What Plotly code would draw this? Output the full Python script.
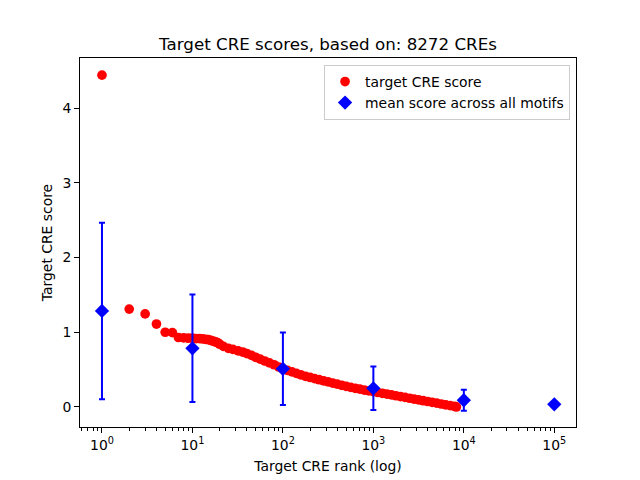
import plotly.graph_objects as go

# Red series: target CRE score by rank
cre_rank = [1, 2, 3, 4, 5, 6, 7, 8, 9, 10, 11, 12, 13, 14, 15, 16, 17, 18, 19, 20,
            22, 25, 28, 32, 36, 40, 45, 50, 56, 63, 71, 80, 90, 100, 112, 126, 141,
            158, 178, 200, 224, 251, 282, 316, 355, 398, 447, 501, 562, 631, 708,
            794, 891, 1000, 1122, 1259, 1413, 1585, 1778, 1995, 2239, 2512, 2818,
            3162, 3548, 3981, 4467, 5012, 5623, 6310, 7079, 7943, 8272]
cre_score = [4.44, 1.31, 1.245, 1.11, 1.00, 0.995, 0.93, 0.925, 0.92, 0.92, 0.915,
             0.915, 0.91, 0.905, 0.90, 0.89, 0.88, 0.87, 0.86, 0.84,
             0.81, 0.785, 0.77, 0.75, 0.735, 0.715, 0.69, 0.665, 0.64, 0.615, 0.59,
             0.565, 0.535, 0.51, 0.49, 0.47, 0.45, 0.43, 0.41, 0.395, 0.38, 0.365,
             0.35, 0.335, 0.32, 0.305, 0.29, 0.275, 0.262, 0.25, 0.238, 0.226,
             0.215, 0.205, 0.194, 0.183, 0.172, 0.161, 0.150, 0.139, 0.128, 0.117,
             0.106, 0.095, 0.084, 0.073, 0.062, 0.051, 0.040, 0.029, 0.018, 0.007,
             0.0]

# Blue series: mean score across all motifs with error bars
mean_rank = [1, 10, 100, 1000, 10000, 100000]
mean_score = [1.285, 0.785, 0.51, 0.25, 0.09, 0.036]
mean_err = [1.18, 0.72, 0.485, 0.29, 0.14, 0.005]

tick_vals = [1, 10, 100, 1000, 10000, 100000]
tick_text = ["10<sup>0</sup>", "10<sup>1</sup>", "10<sup>2</sup>",
             "10<sup>3</sup>", "10<sup>4</sup>", "10<sup>5</sup>"]
minor_vals = [m * 10 ** k for k in range(-1, 6) for m in range(2, 10)]

font = "DejaVu Sans, sans-serif"

fig = go.Figure()
fig.add_trace(go.Scatter(
    x=cre_rank, y=cre_score, mode="markers", name="target CRE score",
    marker=dict(color="#ff0000", size=9.7, line=dict(width=0)),
))
fig.add_trace(go.Scatter(
    x=mean_rank, y=mean_score, mode="markers", name="mean score across all motifs",
    marker=dict(color="#0000ff", symbol="diamond", size=11, line=dict(width=0)),
    error_y=dict(type="data", array=mean_err, color="#0000ff", thickness=2, width=3),
))

# page body has an 8px default offset; margins compensate for it
fig.update_layout(
    width=640, height=480,
    margin=dict(l=72, r=72, t=50, b=61, autoexpand=False),
    paper_bgcolor="white", plot_bgcolor="white",
    font=dict(family=font, size=13.9, color="black"),
    title=dict(text="Target CRE scores, based on: 8272 CREs", x=0.5, xref="paper",
               y=(480 - 36) / 480, yref="container", yanchor="middle",
               font=dict(size=16.7, family=font)),
    showlegend=True,
    legend=dict(x=0.988, y=0.981, xanchor="right", yanchor="top",
                bordercolor="#cccccc", borderwidth=1, bgcolor="rgba(255,255,255,0.8)",
                font=dict(size=13.9, family=font), tracegroupgap=0),
)
fig.update_xaxes(
    type="log", range=[-0.243, 5.24], automargin=False,
    tickmode="array", tickvals=tick_vals, ticktext=tick_text,
    ticks="outside", ticklen=4.9, tickwidth=1, tickcolor="black",
    tickfont=dict(size=13.9, family=font),
    showline=True, mirror=True, linecolor="black", linewidth=1,
    showgrid=False, zeroline=False,
    minor=dict(tickmode="array", tickvals=minor_vals, ticks="outside", ticklen=2.8,
               tickwidth=0.8, tickcolor="black", showgrid=False),
    title=dict(text="Target CRE rank (log)", standoff=9, font=dict(size=13.9, family=font)),
)
fig.update_yaxes(
    range=[-0.268, 4.67], automargin=False,
    tickmode="array", tickvals=[0, 1, 2, 3, 4],
    ticks="outside", ticklen=4.9, tickwidth=1, tickcolor="black",
    tickfont=dict(size=13.9, family=font),
    showline=True, mirror=True, linecolor="black", linewidth=1,
    showgrid=False, zeroline=False,
    title=dict(text="Target CRE score", standoff=6, font=dict(size=13.9, family=font)),
)

fig.write_html("out.html")
